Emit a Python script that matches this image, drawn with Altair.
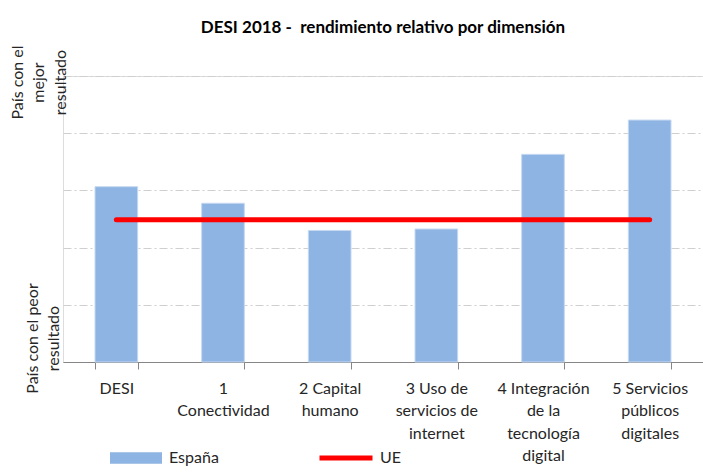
import json
import altair as alt
import pandas as pd

# ---- data ----
categorias = [
    "DESI",
    "1\nConectividad",
    "2 Capital\nhumano",
    "3 Uso de\nservicios de\ninternet",
    "4 Integración\nde la\ntecnología\ndigital",
    "5 Servicios\npúblicos\ndigitales",
]
espana = [61.3, 55.5, 46.0, 46.5, 72.6, 84.6]
ue = [49.7, 49.7, 49.7, 49.7, 49.7, 49.7]
serie_barras = "España"
serie_linea = "UE"
etiqueta_mejor = ["País con el", "mejor", "resultado"]
etiqueta_peor = ["País con el peor", "resultado"]
titulo = "DESI 2018 -\u00a0 rendimiento relativo por dimensión"

df = pd.DataFrame({
    "cat": categorias,
    "espana": espana,
    "ue": ue,
    "s1": [serie_barras] * len(categorias),
    "s2": [serie_linea] * len(categorias),
})

FONT = "Lato"
TXT = "#262626"

label_expr = (
    "datum.value == 100 ? " + json.dumps(etiqueta_mejor, ensure_ascii=False)
    + " : (datum.value == 0 ? " + json.dumps(etiqueta_peor, ensure_ascii=False) + " : '')"
)

x_enc = alt.X(
    "cat:N", sort=categorias, title=None,
    scale=alt.Scale(paddingInner=0.6, paddingOuter=0.3),
    axis=alt.Axis(
        labelExpr="split(datum.label, '\\n')", labelAngle=0, labelAlign="center",
        labelBaseline="top", labelFont=FONT, labelFontSize=16, labelColor=TXT,
        labelLineHeight=22.5, labelPadding=11, tickBand="extent", tickSize=7,
        tickColor="#868686", domainColor="#868686", grid=False, labelLimit=300,
    ),
)

y_axis = alt.Axis(
    values=[0, 20, 40, 60, 80, 100], labelExpr=label_expr, labelAngle=270,
    labelAlign="center", labelBaseline="bottom", labelFont=FONT, labelFontSize=16,
    labelColor=TXT, labelLineHeight=21.5,
    labelPadding={"condition": {"test": "datum.value == 0", "value": 23}, "value": 38},
    labelOffset={"condition": {"test": "datum.value == 0", "value": -24}, "value": 6},
    ticks=False, domain=False, grid=True, gridColor="#CFCFCF", gridDash=[8, 3, 2, 3],
    title=None, labelOverlap=False,
)

bars = alt.Chart(df).mark_bar(stroke="#C6D9F1", strokeWidth=1).encode(
    x=x_enc,
    y=alt.Y("espana:Q", scale=alt.Scale(domain=[0, 100], nice=False), axis=y_axis),
    color=alt.Color(
        "s1:N", scale=alt.Scale(domain=[serie_barras], range=["#8EB4E3"]),
        legend=alt.Legend(
            orient="none", legendX=47, legendY=356, title=None, padding=0,
            symbolType="M-1,-0.22H1V0.22H-1Z", symbolSize=2704, symbolStrokeWidth=0,
            symbolOpacity=1, labelFont=FONT, labelFontSize=16, labelColor=TXT, labelOffset=7,
        ),
    ),
)

line = alt.Chart(df).mark_line(strokeWidth=5, strokeCap="round").encode(
    x=alt.X("cat:N", sort=categorias),
    y=alt.Y("ue:Q"),
    stroke=alt.Stroke(
        "s2:N", scale=alt.Scale(domain=[serie_linea], range=["#FF0000"]),
        legend=alt.Legend(
            orient="none", legendX=254, legendY=353, title=None, padding=0,
            symbolType="stroke", symbolSize=2809, symbolStrokeWidth=5,
            labelFont=FONT, labelFontSize=16, labelColor=TXT, labelOffset=5,
        ),
    ),
)

chart = alt.layer(bars, line).properties(
    width=640, height=286,
    autosize=alt.AutoSizeParams(type="none"),
    padding={"left": 63, "top": 76, "right": 0, "bottom": 113},
    title=alt.TitleParams(
        titulo, font=FONT, fontSize=17, fontWeight="bold", color="#000000",
        anchor="middle", offset=8,
    ),
).configure_view(stroke=None).configure(background="white")

chart.save("out.html", embed_options={"renderer": "svg", "actions": False})
